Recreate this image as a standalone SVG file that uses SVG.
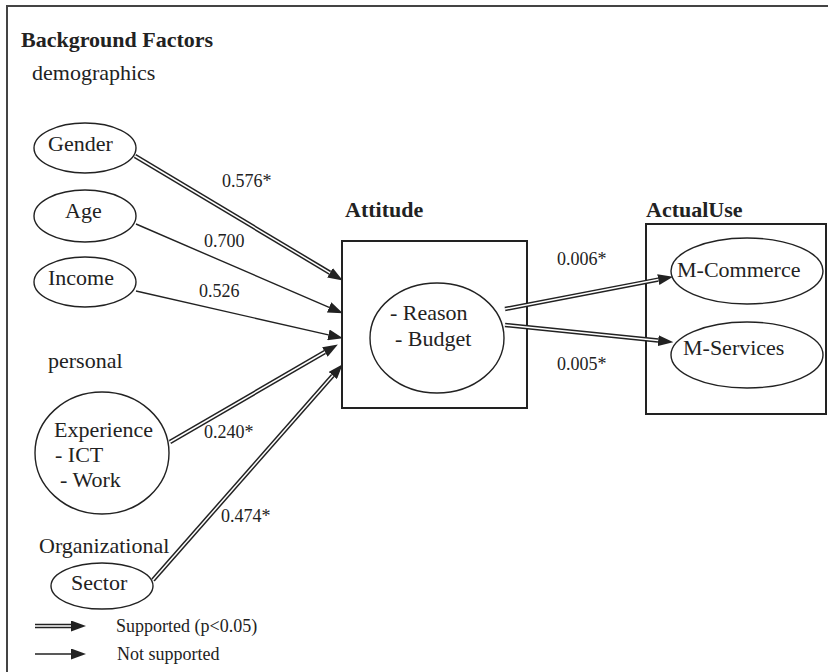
<svg xmlns="http://www.w3.org/2000/svg" width="828" height="672" viewBox="0 0 828 672">
<style>
text{font-family:"Liberation Serif","Times New Roman",serif;fill:#222}
.t{font-size:22px}
.b{font-size:22px;font-weight:bold}
.l{font-size:18px}
.n{fill:none;stroke:#222;stroke-width:1.4}
.box{fill:none;stroke:#222;stroke-width:2}
.dbl{stroke:#222;stroke-width:4.5;fill:none}
.inner{stroke:#fff;stroke-width:1.5;fill:none}
.sgl{stroke:#222;stroke-width:1.4;fill:none}
</style>
<defs>
<marker id="ah" markerUnits="userSpaceOnUse" markerWidth="15" markerHeight="11" refX="0" refY="5.5" orient="auto">
<path d="M0,0 L15,5.5 L0,11 z" fill="#222"/>
</marker>
</defs>
<rect width="828" height="672" fill="#fff"/>
<path d="M7,672 V6 H828" fill="none" stroke="#444" stroke-width="2"/>
<text class="b" x="21" y="47">Background Factors</text>
<text class="t" x="32" y="80">demographics</text>
<text class="t" x="48" y="368">personal</text>
<text class="t" x="39" y="553">Organizational</text>
<g id="gender"><ellipse class="n" cx="85" cy="148" rx="51" ry="25"/><text class="t" x="48" y="151">Gender</text></g>
<g id="age"><ellipse class="n" cx="85" cy="216" rx="51" ry="26"/><text class="t" x="65" y="218">Age</text></g>
<g id="income"><ellipse class="n" cx="85" cy="282" rx="51" ry="25"/><text class="t" x="48" y="285">Income</text></g>
<g id="experience"><ellipse class="n" cx="102" cy="453" rx="67" ry="61"/><text class="t" x="54" y="437">Experience</text><text class="t" x="55" y="462">- ICT</text><text class="t" x="60" y="487">- Work</text></g>
<g id="sector"><ellipse class="n" cx="102" cy="586" rx="51" ry="23"/><text class="t" x="71" y="590">Sector</text></g>
<g id="attitude"><text class="b" x="345" y="217">Attitude</text><rect class="box" x="342" y="241" width="185" height="167"/><ellipse class="n" cx="437" cy="338" rx="67" ry="55"/><text class="t" x="390" y="320">- Reason</text><text class="t" x="395" y="346">- Budget</text></g>
<g id="actualuse"><text class="b" x="646" y="217">ActualUse</text><rect class="box" x="646" y="224" width="180" height="190"/></g>
<g id="mcommerce"><ellipse class="n" cx="747" cy="271" rx="76" ry="33"/><text class="t" x="677" y="277">M-Commerce</text></g>
<g id="mservices"><ellipse class="n" cx="747" cy="355" rx="76" ry="33"/><text class="t" x="683" y="355">M-Services</text></g>
<g id="connectors">
<line class="dbl" x1="135" y1="156" x2="330" y2="272.8" marker-end="url(#ah)"/><line class="inner" x1="135" y1="156" x2="330" y2="272.8"/>
<line class="sgl" x1="136" y1="224" x2="329.1" y2="307.4" marker-end="url(#ah)"/>
<line class="sgl" x1="136" y1="291" x2="328.4" y2="334.9" marker-end="url(#ah)"/>
<line class="dbl" x1="170" y1="442" x2="324.9" y2="352" marker-end="url(#ah)"/><line class="inner" x1="170" y1="442" x2="324.9" y2="352"/>
<line class="dbl" x1="153" y1="580" x2="332.8" y2="375.5" marker-end="url(#ah)"/><line class="inner" x1="153" y1="580" x2="332.8" y2="375.5"/>
<line class="dbl" x1="505" y1="309" x2="658.3" y2="279.6" marker-end="url(#ah)"/><line class="inner" x1="505" y1="309" x2="658.3" y2="279.6"/>
<line class="dbl" x1="505" y1="325" x2="658.1" y2="340.6" marker-end="url(#ah)"/><line class="inner" x1="505" y1="325" x2="658.1" y2="340.6"/>
<line class="dbl" x1="35" y1="626" x2="71" y2="626" marker-end="url(#ah)"/><line class="inner" x1="35" y1="626" x2="71" y2="626"/>
<line class="sgl" x1="35" y1="654" x2="71" y2="654" marker-end="url(#ah)"/>
</g>
<g id="labels">
<text class="l" x="222" y="187">0.576*</text>
<text class="l" x="204" y="247">0.700</text>
<text class="l" x="199" y="297">0.526</text>
<text class="l" x="204" y="438">0.240*</text>
<text class="l" x="221" y="522">0.474*</text>
<text class="l" x="557" y="265">0.006*</text>
<text class="l" x="557" y="370">0.005*</text>
<text class="l" x="116" y="632">Supported (p&lt;0.05)</text>
<text class="l" x="117" y="660">Not supported</text>
</g>
</svg>
